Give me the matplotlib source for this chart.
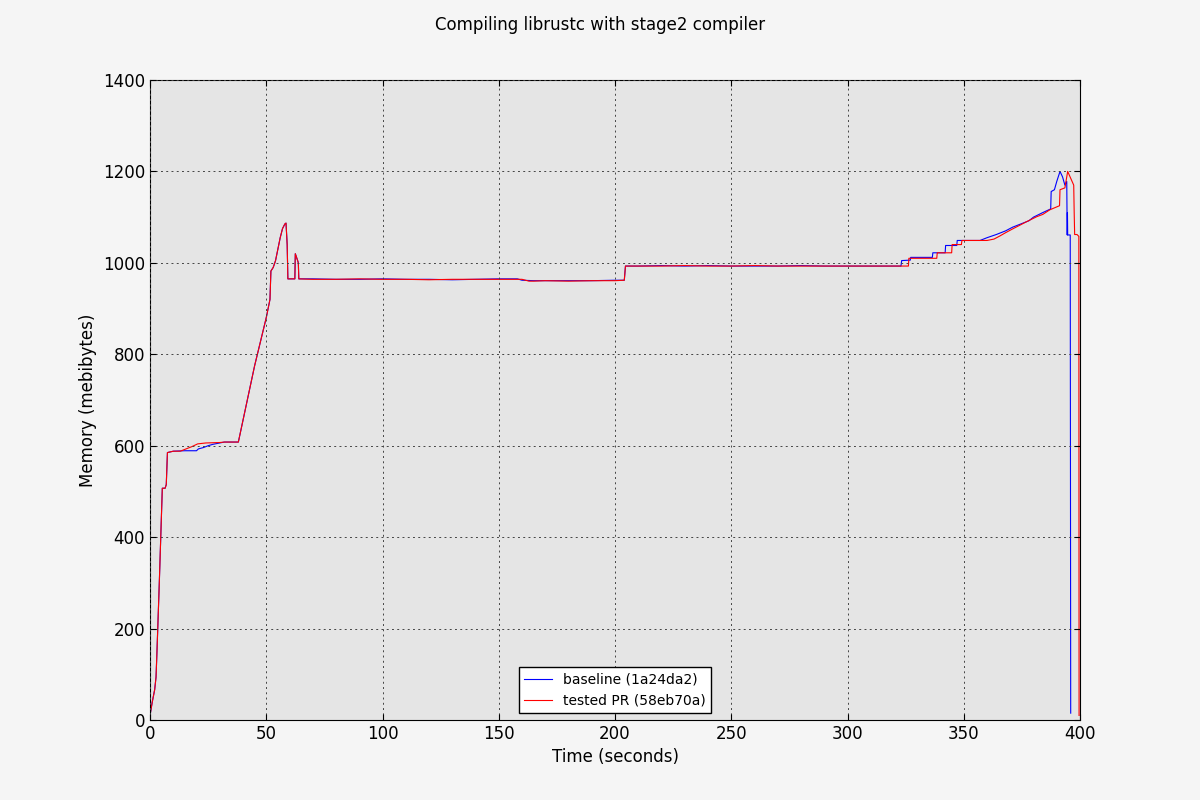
import numpy as np
import matplotlib
matplotlib.use('Agg')
import matplotlib.pyplot as plt

# memory usage samples (seconds, MiB)
base_t = [0, 1, 2, 2.6, 3, 4, 5, 5.3, 6.5, 7, 7.5, 10, 15, 20, 20.8, 23, 25, 27, 30, 32,
          38, 45, 50, 51.6, 52, 53, 54, 55, 56, 57, 58, 58.5, 59, 59.3, 62.3, 62.5, 63.5, 63.8,
          64, 70, 80, 90, 100, 110, 120, 130, 140, 150, 158, 160, 165, 170, 180, 190, 200,
          204, 204.5, 210, 220, 230, 240, 250, 260, 270, 280, 290, 300, 310, 323, 323.3,
          327, 327.2, 336.5, 336.7, 342, 342.2, 347, 347.2, 357, 360, 364, 368, 371, 375,
          378, 380, 384, 387.4, 387.6, 389, 390, 391.4, 392.5, 393.5, 394.3, 394.5, 394.6,
          394.7, 395.8, 396]
base_m = [10, 40, 66, 94, 150, 300, 460, 507, 507, 515, 585, 588, 589, 589, 593, 596, 600, 603, 606, 608,
          608, 775, 880, 920, 982, 990, 1005, 1030, 1055, 1075, 1085, 1087, 1040, 965, 965, 1020, 1005, 1000,
          965, 965, 964, 964, 965, 964, 964, 963, 964, 965, 965, 962, 961, 961, 961, 961, 962,
          962, 993, 993, 994, 993, 994, 993, 993, 993, 994, 993, 993, 993, 993, 1005,
          1006, 1012, 1012, 1022, 1022, 1038, 1038, 1049, 1049, 1055, 1062, 1070, 1078, 1086,
          1092, 1100, 1110, 1118, 1156, 1160, 1178, 1200, 1188, 1170, 1178, 1061, 1110,
          1061, 1061, 15]

test_t = [0, 1, 2, 2.6, 3, 4, 5, 5.3, 6.5, 7, 7.5, 10, 13, 15, 18, 20.5, 24, 30, 32,
          38, 45, 50, 51.6, 52, 53, 54, 55, 56, 57, 58, 58.5, 59, 59.3, 62.3, 62.5, 63.5, 63.8,
          64, 70, 80, 90, 100, 110, 120, 130, 140, 150, 160, 163, 165, 170, 180, 190, 200,
          204, 204.5, 210, 220, 230, 240, 250, 260, 270, 280, 290, 300, 310, 326.2, 326.4,
          338.4, 338.6, 344.8, 345, 349, 349.2, 360, 363, 365.6, 368, 371.3, 374, 377, 381.4,
          384, 387, 391.2, 391.4, 393.5, 394.7, 397.3, 397.5, 397.7, 398.7, 399.5, 399.6]
test_m = [10, 40, 66, 94, 150, 300, 460, 507, 507, 515, 585, 588, 588, 592, 598, 604, 606, 607, 608,
          608, 775, 880, 920, 982, 990, 1005, 1030, 1055, 1075, 1085, 1087, 1040, 965, 965, 1020, 1005, 1000,
          965, 964, 964, 965, 964, 964, 963, 964, 964, 964, 964, 960, 960, 961, 960, 961, 961,
          962, 993, 993, 993, 994, 993, 993, 994, 993, 993, 993, 993, 993, 993, 1010,
          1010, 1022, 1022, 1040, 1040, 1049, 1049, 1052, 1059, 1066, 1075, 1082, 1090, 1101,
          1106, 1116, 1125, 1160, 1164, 1200, 1170, 1110, 1062, 1062, 1058, 10]

fig = plt.figure(figsize=(12, 8), dpi=100, facecolor='#f5f5f5')
ax = fig.add_axes([0.125, 0.1, 0.775, 0.8], facecolor='#e5e5e5')
ax.plot(base_t, base_m, color='b', lw=0.8, label='baseline (1a24da2)')
ax.plot(test_t, test_m, color='r', lw=0.8, label='tested PR (58eb70a)')
ax.set_xlim(0, 400)
ax.set_ylim(0, 1400)
ax.set_xlabel('Time (seconds)', fontsize=12)
ax.set_ylabel('Memory (mebibytes)', fontsize=12)
ax.tick_params(labelsize=12, direction='in', length=4, top=True, right=True)
ax.grid(True, color='#444444', linestyle=(0, (2, 3.4)), linewidth=0.7)
ax.set_axisbelow(False)
leg = ax.legend(loc='lower center', fontsize=10, fancybox=False, framealpha=1)
leg.get_frame().set_edgecolor('black')
fig.suptitle('Compiling librustc with stage2 compiler', fontsize=12, y=0.98)
fig.savefig('out.png', facecolor=fig.get_facecolor())
